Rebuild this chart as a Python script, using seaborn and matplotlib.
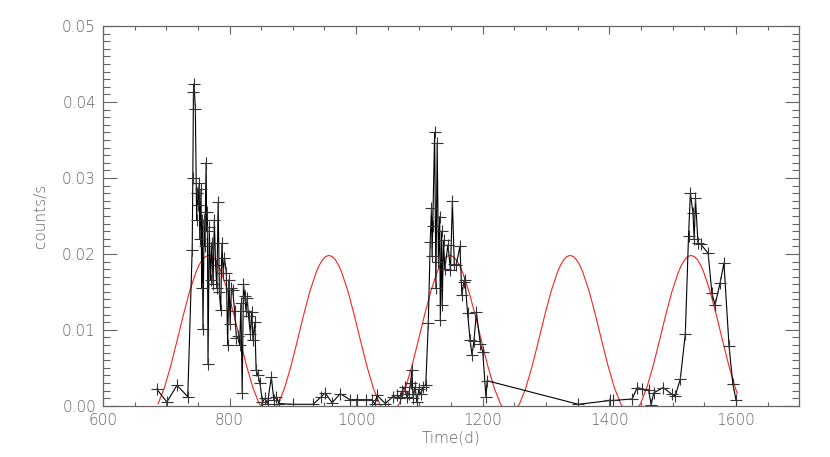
import numpy as np
import pandas as pd
import matplotlib
matplotlib.use("Agg")
import matplotlib.pyplot as plt
import seaborn as sns
from matplotlib.ticker import MultipleLocator

# Observed light curve (time in days, counts/s)
obs_time = [685, 701, 717, 734, 741, 742, 743, 744, 746, 748, 749, 750, 752, 753, 755, 756,
            757, 758, 760, 761, 763, 764, 765, 766, 768, 770, 772, 774, 776, 778, 780, 782,
            784, 786, 788, 790, 792, 795, 797, 799, 801, 803, 805, 808, 811, 814, 816, 818,
            820, 822, 824, 826, 828, 830, 833, 835, 837, 840, 842, 845, 848, 852, 856, 860,
            866, 870, 874, 878, 900, 932, 945, 951, 962, 975, 990, 1001, 1015, 1025, 1030,
            1033, 1046, 1058, 1065, 1070, 1073, 1077, 1080, 1083, 1086, 1088, 1090, 1093,
            1096, 1099, 1102, 1106, 1110, 1114, 1117, 1119, 1120, 1121, 1124, 1126, 1128,
            1130, 1132, 1133, 1135, 1136, 1138, 1140, 1145, 1149, 1152, 1155, 1158, 1164,
            1167, 1170, 1172, 1176, 1180, 1183, 1186, 1190, 1196, 1200, 1205, 1207,
            1351, 1401, 1406, 1436, 1444, 1452, 1462, 1466, 1470, 1485, 1499, 1504, 1512,
            1520, 1525, 1528, 1532, 1534, 1536, 1540, 1544, 1556, 1562, 1567, 1575, 1581,
            1589, 1595, 1600]
obs_rate = [0.0022, 0.0005, 0.0027, 0.0012, 0.0205, 0.0300, 0.0413, 0.0424, 0.0391, 0.0245,
            0.0280, 0.0265, 0.0293, 0.0220, 0.0285, 0.0155, 0.0245, 0.0101, 0.0245, 0.0210,
            0.0320, 0.0230, 0.0255, 0.0055, 0.0235, 0.0165, 0.0215, 0.0160, 0.0245, 0.0185,
            0.0155, 0.0268, 0.0150, 0.0126, 0.0214, 0.0175, 0.0195, 0.0175, 0.0080, 0.0166,
            0.0108, 0.0155, 0.0152, 0.0125, 0.0089, 0.0092, 0.0080, 0.0135, 0.0017, 0.0160,
            0.0145, 0.0125, 0.0142, 0.0118, 0.0095, 0.0124, 0.0087, 0.0110, 0.0047, 0.0040,
            0.0030, 0.0005, 0.0010, 0.0003, 0.0038, 0.0008, 0.0012, 0.0003, 0.0002, 0.0002,
            0.0012, 0.0017, 0.0004, 0.0016, 0.0008, 0.0008, 0.0008, 0.0008, 0.0002, 0.0014,
            0.0003, 0.0012, 0.0014, 0.0010, 0.0020, 0.0025, 0.0012, 0.0015, 0.0030, 0.0047,
            0.0010, 0.0025, 0.0005, 0.0022, 0.0015, 0.0025, 0.0028, 0.0109, 0.0216, 0.0260,
            0.0197, 0.0237, 0.0360, 0.0155, 0.0346, 0.0190, 0.0249, 0.0113, 0.0230, 0.0133,
            0.0218, 0.0180, 0.0212, 0.0179, 0.0270, 0.0187, 0.0185, 0.0210, 0.0146, 0.0163,
            0.0165, 0.0122, 0.0087, 0.0067, 0.0085, 0.0123, 0.0082, 0.0071, 0.0012, 0.0033,
            0.0002, 0.0007, 0.0007, 0.0009, 0.0024, 0.0022, 0.0021, 0.0001, 0.0017, 0.0024,
            0.0015, 0.0013, 0.0035, 0.0095, 0.0223, 0.0280, 0.0254, 0.0219, 0.0273, 0.0214,
            0.0213, 0.0201, 0.0148, 0.0133, 0.0162, 0.0188, 0.0079, 0.0029, 0.0008]

# Periodic model curve (red)
model_time = [687, 697, 707, 717, 727, 737, 747, 752, 757, 762, 767, 772, 777, 782, 787, 797,
              807, 817, 827, 837, 847, 857, 862,
              867, 877, 887, 897, 907, 917, 927, 937, 942, 947, 952, 957, 962, 967, 972, 977,
              987, 997, 1007, 1017, 1027, 1037, 1047, 1052,
              1058, 1068, 1078, 1088, 1098, 1108, 1118, 1128, 1133, 1138, 1143, 1148, 1153,
              1158, 1163, 1168, 1178, 1188, 1198, 1208, 1218, 1228, 1238, 1243,
              1248, 1258, 1268, 1278, 1288, 1298, 1308, 1318, 1323, 1328, 1333, 1338, 1343,
              1348, 1353, 1358, 1368, 1378, 1388, 1398, 1408, 1418, 1428, 1433,
              1439, 1449, 1459, 1469, 1479, 1489, 1499, 1509, 1514, 1519, 1524, 1529, 1534,
              1539, 1544, 1549, 1559, 1569, 1579, 1589, 1599, 1602]
model_rate = [0.00025, 0.00236, 0.00522, 0.00854, 0.01195, 0.01509, 0.01761, 0.01855, 0.01924,
              0.01966, 0.0198, 0.01966, 0.01924, 0.01855, 0.01761, 0.01509, 0.01195, 0.00854,
              0.00522, 0.00236, 0.00025, -0.00086, -0.001,
              -0.00086, 0.00025, 0.00236, 0.00522, 0.00854, 0.01195, 0.01509, 0.01761,
              0.01855, 0.01924, 0.01966, 0.0198, 0.01966, 0.01924, 0.01855, 0.01761, 0.01509,
              0.01195, 0.00854, 0.00522, 0.00236, 0.00025, -0.00086, -0.001,
              -0.00086, 0.00025, 0.00236, 0.00522, 0.00854, 0.01195, 0.01509, 0.01761,
              0.01855, 0.01924, 0.01966, 0.0198, 0.01966, 0.01924, 0.01855, 0.01761, 0.01509,
              0.01195, 0.00854, 0.00522, 0.00236, 0.00025, -0.00086, -0.001,
              -0.00086, 0.00025, 0.00236, 0.00522, 0.00854, 0.01195, 0.01509, 0.01761,
              0.01855, 0.01924, 0.01966, 0.0198, 0.01966, 0.01924, 0.01855, 0.01761, 0.01509,
              0.01195, 0.00854, 0.00522, 0.00236, 0.00025, -0.00086, -0.001,
              -0.00086, 0.00025, 0.00236, 0.00522, 0.00854, 0.01195, 0.01509, 0.01761,
              0.01855, 0.01924, 0.01966, 0.0198, 0.01966, 0.01924, 0.01855, 0.01761, 0.01509,
              0.01195, 0.00854, 0.00522, 0.00236, 0.0016]

x_ticks = [600, 800, 1000, 1200, 1400, 1600]
y_ticks = [0.00, 0.01, 0.02, 0.03, 0.04, 0.05]
x_label = "Time(d)"
y_label = "counts/s"

sns.set_theme(style="white")
plt.rcParams["font.family"] = ["DejaVu Sans"]

fig = plt.figure(figsize=(8.3, 4.57), dpi=100)
ax = fig.add_axes([0.124, 0.112, 0.839, 0.831])

df_model = pd.DataFrame({"t": model_time, "r": model_rate})
df_obs = pd.DataFrame({"t": obs_time, "r": obs_rate})

sns.lineplot(data=df_model, x="t", y="r", ax=ax, color="#ff2020", linewidth=0.8,
             estimator=None, sort=False)
sns.lineplot(data=df_obs, x="t", y="r", ax=ax, color="black", linewidth=0.8,
             estimator=None, sort=False, marker="+", markersize=8,
             markeredgewidth=0.8, markeredgecolor="#333333")

ax.set_xlim(600, 1700)
ax.set_ylim(0, 0.05)
ax.set_xticks(x_ticks)
ax.set_yticks(y_ticks)
ax.set_xticklabels([str(v) for v in x_ticks])
ax.set_yticklabels([f"{v:.2f}" for v in y_ticks])
ax.xaxis.set_minor_locator(MultipleLocator(50))
ax.yaxis.set_minor_locator(MultipleLocator(0.001))

tc = "#666666"
ax.tick_params(axis="x", which="major", direction="in", length=6, width=0.8,
               top=True, bottom=True, colors=tc, labelsize=11, pad=5)
ax.tick_params(axis="x", which="minor", direction="in", length=3, width=0.8,
               top=True, bottom=True, colors=tc)
ax.tick_params(axis="y", which="major", direction="in", length=10, width=0.8,
               left=True, right=True, colors=tc, labelsize=11, pad=5)
ax.tick_params(axis="y", which="minor", direction="in", length=5, width=0.8,
               left=True, right=True, colors=tc)
for lbl in ax.get_xticklabels() + ax.get_yticklabels():
    lbl.set_fontweight("light")
for s in ax.spines.values():
    s.set_color("#666666")
    s.set_linewidth(0.9)
    s.set_visible(True)

ax.set_xlabel(x_label, fontsize=11, color="#666666", labelpad=2, fontweight="light")
ax.set_ylabel(y_label, fontsize=11, color="#666666", labelpad=10, fontweight="light")

fig.savefig("out.png", dpi=100, facecolor="white")
